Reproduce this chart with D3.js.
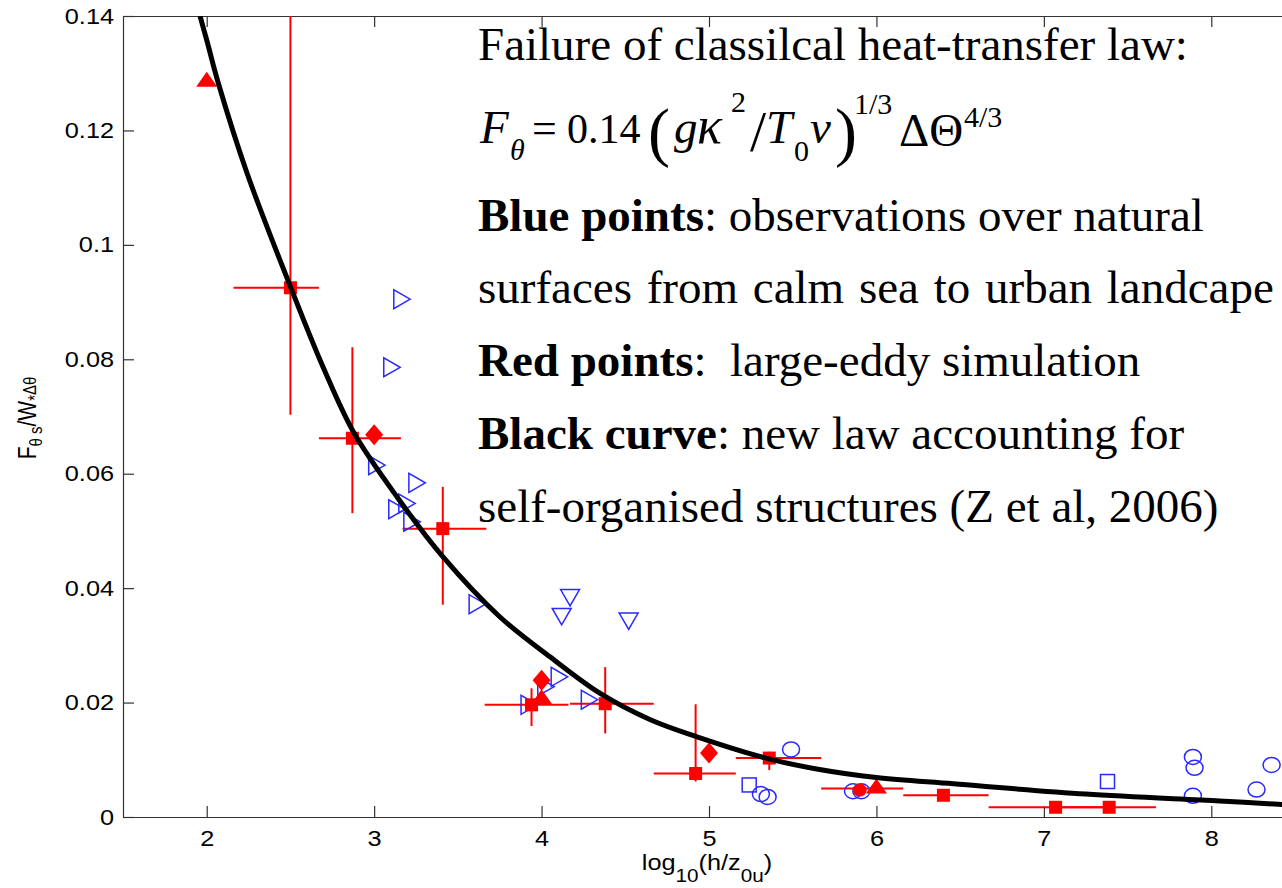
<!DOCTYPE html>
<html>
<head>
<meta charset="utf-8">
<script src="https://cdn.jsdelivr.net/npm/d3@7"></script>
<style>
  body { margin: 0; background: #fff; }
  svg { display: block; }
</style>
</head>
<body>
<div id="chart"></div>
<script>
var width = 1282;
var height = 888;

// tick values
var xTicks = [2, 3, 4, 5, 6, 7, 8];
var yTicks = [0, 0.02, 0.04, 0.06, 0.08, 0.1, 0.12, 0.14];

// black curve
var curvePts = [[1.96,0.140],[2.0,0.1358],[2.07,0.1282],[2.24,0.1126],[2.5,0.0927],[2.7,0.0783],
  [2.88,0.0671],[3.15,0.0554],[3.41,0.0455],[3.75,0.0350],[4.05,0.0280],[4.35,0.0216],
  [4.65,0.0170],[4.92,0.0141],[5.34,0.0103],[5.66,0.0083],[6.0,0.0069],[6.46,0.0058],
  [7.25,0.0040],[8.05,0.0028],[8.47,0.0021]];

// red squares (LES) with error bars: x, y, x-low, x-high, y-low, y-high
var lesSquares = [
  [2.50, 0.0925, 2.16, 2.67, 0.0703, 0.15],
  [2.87, 0.0662, 2.67, 3.16, 0.0531, 0.0821],
  [3.41, 0.0504, 3.17, 3.67, 0.0371, 0.0577],
  [3.94, 0.0196, 3.66, 4.16, 0.0159, 0.0225],
  [4.38, 0.0198, 4.17, 4.67, 0.0146, 0.0262],
  [4.92, 0.0076, 4.67, 5.16, 0.0062, 0.0197],
  [5.36, 0.0103, 5.16, 5.67, 0.0082, 0.0114],
  [6.40, 0.0038, 6.16, 6.67, 0.0038, 0.0038],
  [7.07, 0.0017, 6.67, 7.40, 0.0017, 0.0017],
  [7.39, 0.0017, 7.10, 7.67, 0.0017, 0.0017]
];
var lesTriangles = [[2.0, 0.1285], [4.0, 0.0206], [6.0, 0.0050]];
var lesTriBars = [[6.0, 0.0050, 5.67, 6.16]];
var lesDiamonds = [[3.0, 0.0668], [4.0, 0.0239], [5.0, 0.0112]];
var lesDots = [[5.9, 0.0047]];

// blue observations
var obsRight = [[3.15,0.0905],[3.09,0.0786],[3.0,0.0615],[3.24,0.0584],[3.18,0.0548],
  [3.12,0.0538],[3.21,0.0516],[3.60,0.0372],[4.09,0.0245],[4.01,0.0228],[3.91,0.0196],[4.27,0.0205]];
var obsDown = [[4.17,0.0388],[4.12,0.0355],[4.52,0.0347]];
var obsCircles = [[5.49,0.0118],[5.31,0.0040],[5.35,0.0035],[5.86,0.0045],[5.91,0.0045],
  [7.89,0.0105],[7.90,0.0086],[7.89,0.0037],[8.27,0.0048],[8.36,0.0091]];
var obsSquares = [[5.24,0.0056],[7.38,0.0062]];

var red = "#ff0000";
var blue = "#2a2aff";

var svg = d3.select("#chart").append("svg")
  .attr("width", width).attr("height", height);

var x = d3.scaleLinear().domain([1.5, 8.47]).range([123, 1290]);
var y = d3.scaleLinear().domain([0, 0.14]).range([817, 16]);

svg.append("defs").append("clipPath").attr("id", "plotclip")
  .append("rect").attr("x", 123).attr("y", 16).attr("width", 1167).attr("height", 801);

var axisColor = "#333";
var tickFont = "'Liberation Sans', Arial, sans-serif";

var gx = svg.append("g").attr("transform", "translate(0,817)")
  .call(d3.axisBottom(x).tickValues(xTicks).tickSizeInner(-11).tickSizeOuter(0).tickPadding(13)
    .tickFormat(d3.format("d")));
var gxt = svg.append("g").attr("transform", "translate(0,16)")
  .call(d3.axisTop(x).tickValues(xTicks).tickSizeInner(-11).tickSizeOuter(0).tickFormat(""));
var gy = svg.append("g").attr("transform", "translate(123,0)")
  .call(d3.axisLeft(y).tickValues(yTicks).tickSizeInner(-11).tickSizeOuter(0).tickPadding(9)
    .tickFormat(function(d){ return String(+d.toFixed(2)); }));

[gx, gxt, gy].forEach(function(g){
  g.selectAll("path,line").attr("stroke", axisColor).attr("stroke-width", 1.2);
  g.selectAll("text").attr("fill", "#000").style("font-family", tickFont).style("font-size", "22px")
    .attr("transform", "scale(1.15,1)");
});
gy.selectAll("text").attr("x", -9 / 1.15);

var plot = svg.append("g").attr("clip-path", "url(#plotclip)");

// error bars
var bars = lesSquares.concat(lesTriBars.map(function(d){ return [d[0], d[1], d[2], d[3], d[1], d[1]]; }));
plot.selectAll(".hbar").data(bars).enter().append("line")
  .attr("x1", function(d){ return x(d[2]); }).attr("x2", function(d){ return x(d[3]); })
  .attr("y1", function(d){ return y(d[1]); }).attr("y2", function(d){ return y(d[1]); })
  .attr("stroke", red).attr("stroke-width", 2);
plot.selectAll(".vbar").data(lesSquares.filter(function(d){ return d[5] > d[4]; })).enter().append("line")
  .attr("x1", function(d){ return x(d[0]); }).attr("x2", function(d){ return x(d[0]); })
  .attr("y1", function(d){ return y(d[4]); }).attr("y2", function(d){ return y(d[5]); })
  .attr("stroke", red).attr("stroke-width", 2);

// blue markers
var triRight = d3.symbol().type(d3.symbolTriangle).size(155);
plot.selectAll(".oright").data(obsRight).enter().append("path")
  .attr("d", triRight)
  .attr("transform", function(d){ return "translate(" + x(d[0]) + "," + y(d[1]) + ") rotate(90)"; })
  .attr("fill", "none").attr("stroke", blue).attr("stroke-width", 1.5);
plot.selectAll(".odown").data(obsDown).enter().append("path")
  .attr("d", triRight)
  .attr("transform", function(d){ return "translate(" + x(d[0]) + "," + y(d[1]) + ") rotate(180)"; })
  .attr("fill", "none").attr("stroke", blue).attr("stroke-width", 1.5);
plot.selectAll(".ocirc").data(obsCircles).enter().append("ellipse")
  .attr("cx", function(d){ return x(d[0]); }).attr("cy", function(d){ return y(d[1]); })
  .attr("rx", 8.5).attr("ry", 7.5)
  .attr("fill", "none").attr("stroke", blue).attr("stroke-width", 1.5);
plot.selectAll(".osq").data(obsSquares).enter().append("rect")
  .attr("x", function(d){ return x(d[0]) - 7; }).attr("y", function(d){ return y(d[1]) - 7; })
  .attr("width", 14).attr("height", 14)
  .attr("fill", "none").attr("stroke", blue).attr("stroke-width", 1.5);

// red markers
plot.selectAll(".rsq").data(lesSquares).enter().append("rect")
  .attr("x", function(d){ return x(d[0]) - 6.5; }).attr("y", function(d){ return y(d[1]) - 6.5; })
  .attr("width", 13).attr("height", 13).attr("fill", red);
plot.selectAll(".rtri").data(lesTriangles).enter().append("path")
  .attr("d", d3.symbol().type(d3.symbolTriangle).size(160))
  .attr("transform", function(d){ return "translate(" + x(d[0]) + "," + y(d[1]) + ") scale(1.1,0.9)"; })
  .attr("fill", red);
plot.selectAll(".rdia").data(lesDiamonds).enter().append("path")
  .attr("d", "M0,-10.5L9,0L0,10.5L-9,0Z")
  .attr("transform", function(d){ return "translate(" + x(d[0]) + "," + y(d[1]) + ")"; })
  .attr("fill", red);
plot.selectAll(".rdot").data(lesDots).enter().append("ellipse")
  .attr("cx", function(d){ return x(d[0]); }).attr("cy", function(d){ return y(d[1]); })
  .attr("rx", 7).attr("ry", 6.5).attr("fill", red);

// black curve
plot.append("path").datum(curvePts)
  .attr("d", d3.line().x(function(d){ return x(d[0]); }).y(function(d){ return y(d[1]); })
    .curve(d3.curveCatmullRom))
  .attr("fill", "none").attr("stroke", "#000").attr("stroke-width", 5);

// axis labels
var xl = svg.append("text").attr("transform", "translate(707,870) scale(1.15,1)").attr("text-anchor", "middle")
  .style("font-family", tickFont).style("font-size", "22px");
xl.append("tspan").text("log");
xl.append("tspan").attr("dy", 12).style("font-size", "18px").text("10");
xl.append("tspan").attr("dy", -12).text("(h/z");
xl.append("tspan").attr("dy", 12).style("font-size", "18px").text("0u");
xl.append("tspan").attr("dy", -12).text(")");

var yl = svg.append("text").attr("transform", "translate(36,418) rotate(-90) scale(1,1.2)")
  .attr("text-anchor", "middle").style("font-family", tickFont).style("font-size", "21px");
yl.append("tspan").text("F");
yl.append("tspan").attr("dy", 5).style("font-size", "15px").text("θ s");
yl.append("tspan").attr("dy", -5).text("/W");
yl.append("tspan").attr("dy", 4).style("font-size", "15px").text("*");
yl.append("tspan").attr("dy", -4).style("font-size", "15px").text("Δθ");

// annotation text
var serif = "'Liberation Serif', 'Times New Roman', serif";
var note = svg.append("g").style("font-family", serif).style("font-size", "47px").attr("fill", "#000");

function noteLine(yb, parts, spacing) {
  var t = note.append("text").attr("x", 478).attr("y", yb).attr("xml:space", "preserve")
    .style("word-spacing", (spacing || 0) + "px");
  parts.forEach(function(p){
    t.append("tspan").style("font-weight", p[1] ? "bold" : "normal").text(p[0]);
  });
}
noteLine(60, [["Failure of classilcal heat-transfer law:", false]]);
noteLine(231, [["Blue points", true], [": observations over natural", false]]);
noteLine(303, [["surfaces from calm sea to urban landcape", false]], 3);
noteLine(376, [["Red points", true], [":  large-eddy simulation", false]]);
noteLine(449, [["Black curve", true], [": new law accounting for", false]]);
noteLine(522, [["self-organised structures (Z et al, 2006)", false]]);

// formula pieces: text, x, baseline, size, italic
var formula = [
  ["F", 480, 143, 47, true],
  ["θ", 510, 160, 30, true],
  ["=", 532, 143, 44, false],
  ["0.14", 567, 143, 42, false],
  ["(", 648, 154, 66, false],
  ["g", 674, 143, 47, true],
  ["κ", 697, 143, 52, true],
  ["2", 731, 112, 30, false],
  ["/", 750, 151, 58, false],
  ["T", 766, 143, 47, true],
  ["0", 794, 161, 30, false],
  ["ν", 810, 143, 47, true],
  [")", 835, 154, 66, false],
  ["1/3", 854, 114, 30, false],
  ["ΔΘ", 899, 146, 47, false],
  ["4/3", 964, 127, 30, false]
];
note.selectAll(".fpart").data(formula).enter().append("text")
  .attr("x", function(d){ return d[1]; }).attr("y", function(d){ return d[2]; })
  .style("font-size", function(d){ return d[3] + "px"; })
  .style("font-style", function(d){ return d[4] ? "italic" : "normal"; })
  .text(function(d){ return d[0]; });
</script>
</body>
</html>
